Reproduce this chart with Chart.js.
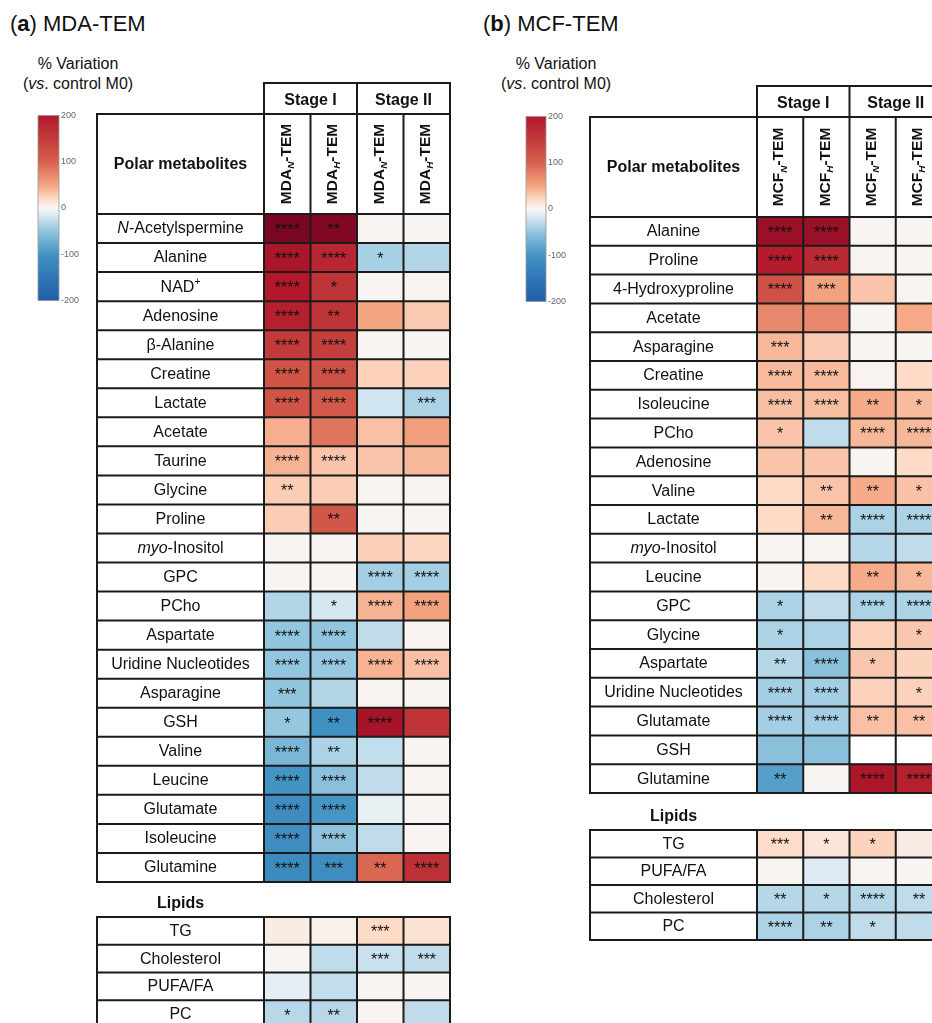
<!DOCTYPE html>
<html>
<head>
<meta charset="utf-8">
<script src="https://cdn.jsdelivr.net/npm/chart.js@4.4.0/dist/chart.umd.min.js"></script>
<style>
  body { margin: 0; width: 932px; height: 1023px; overflow: hidden; background: #fff; position: relative;
         font-family: "Liberation Sans", Arial, sans-serif; color: #111; }
  canvas { position: absolute; }
  .title { position: absolute; top: 13px; font-size: 22px; line-height: 22px; white-space: nowrap; }
  .scale-title { position: absolute; top: 54px; width: 140px; font-size: 16px; line-height: 20px; text-align: center; }
</style>
</head>
<body>
<div class="title" style="left:10px">(<b>a</b>) MDA-TEM</div>
<div class="title" style="left:483px">(<b>b</b>) MCF-TEM</div>
<div class="scale-title" style="left:8px">% Variation<br>(<i>vs</i>.&nbsp;control M0)</div>
<div class="scale-title" style="left:486px">% Variation<br>(<i>vs</i>.&nbsp;control M0)</div>

<canvas id="barA" width="59" height="200" style="left:36px;top:108px"></canvas>
<canvas id="barB" width="58" height="200" style="left:524px;top:109px"></canvas>
<canvas id="mdaPolar" width="357" height="802" style="left:95px;top:82px"></canvas>
<canvas id="mdaLipid" width="357" height="143" style="left:95px;top:887px"></canvas>
<canvas id="mcfPolar" width="356" height="711" style="left:588px;top:84px"></canvas>
<canvas id="mcfLipid" width="356" height="142" style="left:588px;top:800px"></canvas>

<script>
// ---- data: % variation vs control M0, plus significance stars ----
const stageLabels = ['Stage I', 'Stage II'];
const scaleTicks = [-200, -100, 0, 100, 200];

const mdaCols = ['MDA<sub>N</sub>-TEM', 'MDA<sub>H</sub>-TEM', 'MDA<sub>N</sub>-TEM', 'MDA<sub>H</sub>-TEM'];
const mcfCols = ['MCF<sub>N</sub>-TEM', 'MCF<sub>H</sub>-TEM', 'MCF<sub>N</sub>-TEM', 'MCF<sub>H</sub>-TEM'];

const mdaPolarNames = ['<i>N</i>-Acetylspermine', 'Alanine', 'NAD<sup>+</sup>', 'Adenosine', 'β-Alanine', 'Creatine',
  'Lactate', 'Acetate', 'Taurine', 'Glycine', 'Proline', '<i>myo</i>-Inositol', 'GPC', 'PCho', 'Aspartate',
  'Uridine Nucleotides', 'Asparagine', 'GSH', 'Valine', 'Leucine', 'Glutamate', 'Isoleucine', 'Glutamine'];
const mdaPolarVals = [
  [350, 330, 3, 2], [220, 180, -40, -35], [200, 160, 2, 2], [190, 160, 50, 30], [150, 145, 2, 2],
  [115, 120, 25, 25], [115, 110, -20, -38], [45, 85, 35, 55], [42, 33, 33, 40], [28, 28, 3, 3],
  [28, 112, 2, 2], [2, 2, 27, 23], [2, 2, -42, -42], [-35, -18, 42, 52], [-50, -50, -28, 2],
  [-50, -47, 43, 35], [-50, -35, 2, 2], [-48, -105, 230, 160], [-65, -38, -27, 2], [-100, -55, -28, 2],
  [-110, -98, -8, 2], [-108, -52, -28, 2], [-115, -110, 95, 165]];
const mdaPolarStars = [
  ['****', '**', '', ''], ['****', '****', '*', ''], ['****', '*', '', ''], ['****', '**', '', ''],
  ['****', '****', '', ''], ['****', '****', '', ''], ['****', '****', '', '***'], ['', '', '', ''],
  ['****', '****', '', ''], ['**', '', '', ''], ['', '**', '', ''], ['', '', '', ''],
  ['', '', '****', '****'], ['', '*', '****', '****'], ['****', '****', '', ''], ['****', '****', '****', '****'],
  ['***', '', '', ''], ['*', '**', '****', ''], ['****', '**', '', ''], ['****', '****', '', ''],
  ['****', '****', '', ''], ['****', '****', '', ''], ['****', '***', '**', '****']];

const mdaLipidNames = ['TG', 'Cholesterol', 'PUFA/FA', 'PC'];
const mdaLipidVals = [[8, 5, 20, 15], [2, -28, -24, -28], [-10, -27, 2, 2], [-32, -32, 2, -28]];
const mdaLipidStars = [['', '', '***', ''], ['', '', '***', '***'], ['', '', '', ''], ['*', '**', '', '']];

const mcfPolarNames = ['Alanine', 'Proline', '4-Hydroxyproline', 'Acetate', 'Asparagine', 'Creatine', 'Isoleucine',
  'PCho', 'Adenosine', 'Valine', 'Lactate', '<i>myo</i>-Inositol', 'Leucine', 'GPC', 'Glycine', 'Aspartate',
  'Uridine Nucleotides', 'Glutamate', 'GSH', 'Glutamine'];
const mcfPolarVals = [
  [260, 260, 2, 2], [195, 175, 2, 2], [120, 52, 33, 2], [70, 70, 2, 48], [40, 29, 2, 2],
  [38, 38, 3, 20], [36, 36, 47, 38], [33, -28, 40, 40], [33, 33, 2, 20], [20, 33, 47, 34],
  [20, 40, -38, -38], [2, 2, -33, -28], [2, 20, 47, 40], [-38, -28, -38, -38], [-38, -38, 25, 31],
  [-33, -55, 31, 24], [-42, -42, 25, 25], [-42, -42, 35, 35], [-55, -55, null, null], [-88, 2, 210, 190]];
const mcfPolarStars = [
  ['****', '****', '', ''], ['****', '****', '', ''], ['****', '***', '', ''], ['', '', '', ''],
  ['***', '', '', ''], ['****', '****', '', ''], ['****', '****', '**', '*'], ['*', '', '****', '****'],
  ['', '', '', ''], ['', '**', '**', '*'], ['', '**', '****', '****'], ['', '', '', ''],
  ['', '', '**', '*'], ['*', '', '****', '****'], ['*', '', '', '*'], ['**', '****', '*', ''],
  ['****', '****', '', '*'], ['****', '****', '**', '**'], ['', '', '', ''], ['**', '', '****', '****']];

const mcfLipidNames = ['TG', 'PUFA/FA', 'Cholesterol', 'PC'];
const mcfLipidVals = [[19, 13, 24, 8], [2, -13, 2, 2], [-33, -33, -33, -28], [-38, -38, -28, -28]];
const mcfLipidStars = [['***', '*', '*', ''], ['', '', '', ''], ['**', '*', '****', '**'], ['****', '**', '*', '']];

// ---- colour scale (diverging red/blue) ----
const heatStops = [
  [-200, '#1f5fa6'], [-150, '#2f76b6'], [-100, '#4393c3'], [-50, '#92c5de'], [-20, '#d1e5f0'],
  [0, '#f7f7f7'], [20, '#fddbc7'], [50, '#f4a582'], [100, '#d6604d'], [150, '#c13b3a'],
  [200, '#b2182b'], [300, '#8a0c25'], [400, '#67001f']];

function hex(c) { return [1, 3, 5].map(i => parseInt(c.slice(i, i + 2), 16)); }
function heat(v) {
  if (v === null) return '#ffffff';
  v = Math.max(-200, Math.min(400, v));
  for (let i = 1; i < heatStops.length; i++) {
    const [v1, c1] = heatStops[i];
    if (v <= v1) {
      const [v0, c0] = heatStops[i - 1];
      const t = (v - v0) / (v1 - v0);
      const a = hex(c0), b = hex(c1);
      return `rgb(${a.map((x, k) => Math.round(x + (b[k] - x) * t)).join(',')})`;
    }
  }
  return heatStops[heatStops.length - 1][1];
}

const FONT = '"Liberation Sans", Arial, sans-serif';
const LINE = '#1b1b1b';
const NAME_W = 167, HEAD_H = 100, STAGE_H = 31;
Chart.defaults.font.family = FONT;

// small markup: <i>..</i>, <sup>..</sup>, <sub>..</sub>
function parseRich(s) {
  return s.split(/(<i>.*?<\/i>|<sup>.*?<\/sup>|<sub>.*?<\/sub>)/).filter(Boolean).map(p => {
    let m;
    if ((m = p.match(/^<i>(.*)<\/i>$/))) return { t: m[1], italic: true };
    if ((m = p.match(/^<sup>(.*)<\/sup>$/))) return { t: m[1], sup: true };
    if ((m = p.match(/^<sub>(.*)<\/sub>$/))) return { t: m[1], sub: true, italic: true };
    return { t: p };
  });
}
function drawRich(ctx, s, x, y, size, bold) {
  const segs = parseRich(s);
  const fontOf = g => `${g.italic ? 'italic ' : ''}${bold ? 'bold ' : ''}${g.sup || g.sub ? size * 0.64 : size}px ${FONT}`;
  let w = 0;
  segs.forEach(g => { ctx.font = fontOf(g); g.w = ctx.measureText(g.t).width; w += g.w; });
  let cx = x - w / 2;
  ctx.textAlign = 'left';
  ctx.textBaseline = 'middle';
  segs.forEach(g => {
    ctx.font = fontOf(g);
    const dy = g.sup ? -size * 0.3 : g.sub ? size * 0.3 : 0;
    ctx.fillText(g.t, cx, y + dy);
    cx += g.w;
  });
}

// grid lines, names, stars and headers around the heat cells
function tableFrame(names, stars, cols, label) {
  return {
    id: 'tableFrame',
    afterDatasetsDraw(chart) {
      const { ctx, chartArea: a, scales: { x, y } } = chart;
      const n = names.length;
      const rowH = (y.bottom - y.top) / n;
      const nameL = a.left - NAME_W;
      const xs = [0, 1, 2, 3, 4].map(v => x.getPixelForValue(v));
      ctx.save();
      ctx.strokeStyle = LINE;
      ctx.lineWidth = 2;
      ctx.lineCap = 'square';
      ctx.beginPath();
      for (let i = 0; i <= n; i++) {
        const yy = y.top + i * rowH;
        ctx.moveTo(nameL, yy); ctx.lineTo(a.right, yy);
      }
      [nameL, ...xs].forEach(xx => { ctx.moveTo(xx, a.top); ctx.lineTo(xx, a.bottom); });

      if (cols) {
        const hTop = a.top - HEAD_H, sTop = hTop - STAGE_H;
        ctx.rect(nameL, hTop, a.right - nameL, HEAD_H);
        xs.slice(0, 4).forEach(xx => { ctx.moveTo(xx, hTop); ctx.lineTo(xx, a.top); });
        ctx.rect(xs[0], sTop, xs[4] - xs[0], STAGE_H);
        ctx.moveTo(xs[2], sTop); ctx.lineTo(xs[2], hTop);
      }
      ctx.stroke();

      ctx.fillStyle = '#111';
      names.forEach((nm, i) => drawRich(ctx, nm, (nameL + a.left) / 2, y.getPixelForValue(i) + 0.5, 16, false));

      ctx.font = `16px ${FONT}`;
      ctx.textAlign = 'center';
      ctx.textBaseline = 'middle';
      stars.forEach((row, i) => row.forEach((s, c) => {
        if (s) ctx.fillText(s, x.getPixelForValue(c + 0.5), y.getPixelForValue(i) + 2);
      }));

      if (cols) {
        const hTop = a.top - HEAD_H, sTop = hTop - STAGE_H;
        drawRich(ctx, 'Polar metabolites', (nameL + a.left) / 2, hTop + HEAD_H / 2 + 1, 16, true);
        stageLabels.forEach((s, k) => drawRich(ctx, s, (xs[2 * k] + xs[2 * k + 2]) / 2, sTop + STAGE_H / 2 + 2, 16, true));
        cols.forEach((lbl, c) => {
          ctx.save();
          ctx.translate(x.getPixelForValue(c + 0.5) - 1, hTop + HEAD_H / 2);
          ctx.rotate(-Math.PI / 2);
          drawRich(ctx, lbl, 0, 0, 15.5, true);
          ctx.restore();
        });
      }
      if (label) drawRich(ctx, label, (nameL + a.left) / 2, a.top - 13, 16, true);
      ctx.restore();
    }
  };
}

function heatTable(id, names, vals, stars, cols, label, pad) {
  const datasets = [0, 1, 2, 3].map(c => ({
    data: names.map(() => [c, c + 1]),
    backgroundColor: vals.map(r => heat(r[c])),
    borderWidth: 0,
    grouped: false,
    categoryPercentage: 1,
    barPercentage: 1
  }));
  return new Chart(document.getElementById(id), {
    type: 'bar',
    data: { labels: names, datasets },
    options: {
      indexAxis: 'y',
      responsive: false,
      animation: false,
      events: [],
      layout: { padding: pad },
      plugins: { legend: { display: false }, tooltip: { enabled: false } },
      scales: {
        x: { type: 'linear', min: 0, max: 4, display: false },
        y: { type: 'category', display: false, offset: true }
      }
    },
    plugins: [tableFrame(names, stars, cols, label)]
  });
}

// colour bar legend
const gradientFill = {
  id: 'gradientFill',
  beforeDatasetsDraw(chart) {
    const { ctx, chartArea: a, scales: { y } } = chart;
    const g = ctx.createLinearGradient(0, y.getPixelForValue(-200), 0, y.getPixelForValue(200));
    for (let v = -200; v <= 200; v += 10) g.addColorStop((v + 200) / 400, heat(v));
    ctx.save();
    ctx.fillStyle = g;
    ctx.fillRect(a.left, a.top, a.right - a.left, a.bottom - a.top);
    ctx.strokeStyle = '#9a9a9a';
    ctx.lineWidth = 0.8;
    ctx.strokeRect(a.left, a.top, a.right - a.left, a.bottom - a.top);
    ctx.restore();
  }
};

function colourBar(id) {
  return new Chart(document.getElementById(id), {
    type: 'bar',
    data: { labels: [''], datasets: [] },
    options: {
      responsive: false,
      animation: false,
      events: [],
      layout: { padding: { left: 2, top: 7, bottom: 7, right: 0 } },
      plugins: { legend: { display: false }, tooltip: { enabled: false } },
      scales: {
        x: { display: false },
        y: {
          position: 'right', min: -200, max: 200,
          afterBuildTicks: s => { s.ticks = scaleTicks.map(v => ({ value: v })); },
          afterFit: s => { s.width = 36; },
          ticks: { font: { size: 9 }, color: '#666', padding: 2 },
          grid: { display: false, drawTicks: false, tickLength: 0 },
          border: { display: false }
        }
      }
    },
    plugins: [gradientFill]
  });
}

colourBar('barA');
colourBar('barB');
heatTable('mdaPolar', mdaPolarNames, mdaPolarVals, mdaPolarStars, mdaCols, null, { left: 169, right: 2, top: 132, bottom: 2 });
heatTable('mdaLipid', mdaLipidNames, mdaLipidVals, mdaLipidStars, null, 'Lipids', { left: 169, right: 2, top: 30, bottom: 2 });
heatTable('mcfPolar', mcfPolarNames, mcfPolarVals, mcfPolarStars, mcfCols, null, { left: 169, right: 2, top: 133, bottom: 2 });
heatTable('mcfLipid', mcfLipidNames, mcfLipidVals, mcfLipidStars, null, 'Lipids', { left: 169, right: 2, top: 30, bottom: 2 });
</script>
</body>
</html>
